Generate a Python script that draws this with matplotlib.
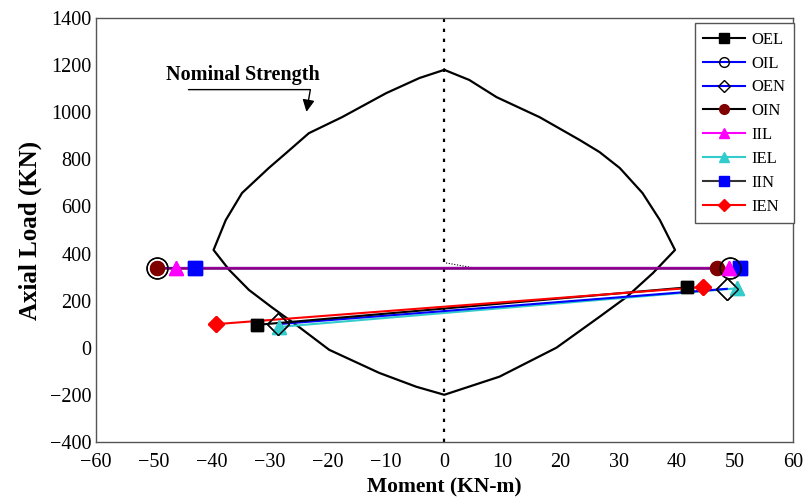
import matplotlib.pyplot as plt
from matplotlib.lines import Line2D

plt.rcParams['font.family'] = ['Liberation Serif', 'DejaVu Serif']

# nominal strength interaction curve (moment, axial load)
curve_m = [0, -4.3, -10, -17.6, -23.3, -27.2, -30.2, -34.8, -37.6, -39.7,
           -37, -33.6, -29.7, -25, -19.8, -11.2, -4.8, 0,
           9.5, 19.3, 26.7, 31.4, 35.9, 39.7, 37.1, 34.1, 30.2, 26.7, 23.3,
           16.4, 9, 4.3, 0]
curve_p = [1180, 1145, 1081, 979, 911, 827, 763, 657, 542, 415,
           330, 245, 172, 88, -9, -107, -166, -200,
           -123, 0, 131, 216, 317, 415, 542, 657, 763, 831, 882,
           979, 1064, 1137, 1180]

labels = ["OEL", "OIL", "OEN", "OIN", "IIL", "IEL", "IIN", "IEN"]
moments = {
    "OEL": [-32.2, 41.7],
    "OIL": [-49.5, 49.1],
    "OEN": [-28.6, 48.6],
    "OIN": [-49.5, 47.0],
    "IIL": [-46.2, 49.0],
    "IEL": [-28.5, 50.3],
    "IIN": [-42.9, 50.9],
    "IEN": [-39.3, 44.5],
}
loads = {
    "OEL": [97, 256],
    "OIL": [340, 340],
    "OEN": [100, 250],
    "OIN": [340, 340],
    "IIL": [340, 340],
    "IEL": [88, 252],
    "IIN": [340, 340],
    "IEN": [100, 258],
}

styles = {
    "OEL": dict(color="black", marker="s", mfc="black", mec="black", ms=9),
    "OIL": dict(color="blue", marker="o", mfc="none", mec="black", ms=15),
    "OEN": dict(color="blue", marker="D", mfc="none", mec="black", ms=11),
    "OIN": dict(color="black", marker="o", mfc="#800000", mec="#800000", ms=10),
    "IIL": dict(color="magenta", marker="^", mfc="magenta", mec="magenta", ms=10),
    "IEL": dict(color="#33cccc", marker="^", mfc="#33cccc", mec="#33cccc", ms=10),
    "IIN": dict(color="#333333", marker="s", mfc="blue", mec="blue", ms=10),
    "IEN": dict(color="red", marker="D", mfc="red", mec="red", ms=8),
}

fig = plt.figure(figsize=(8.1, 5.01), dpi=100)
ax = fig.add_axes([0.118, 0.118, 0.861, 0.846])

ax.plot(curve_m, curve_p, color="black", lw=1.6, zorder=2)
ax.plot([0, 0], [-400, 1400], color="black", ls=(0, (1.5, 3)), lw=1.6, zorder=1)
ax.plot([0.3, 4.8], [360, 340], color="black", ls=(0, (1, 1.5)), lw=0.8, zorder=1)

draw_order = ["IIN", "OIN", "OIL", "IIL", "IEL", "OEN", "OEL", "IEN"]
for name in draw_order:
    st = styles[name]
    ax.plot(moments[name], loads[name], lw=1.5, zorder=3, **st)
# overlapping lines at constant load appear purple
ax.plot(moments["OIN"], loads["OIN"], color="purple", lw=1.8, zorder=3)
for name in draw_order:
    st = dict(styles[name])
    st.pop("color")
    ax.plot(moments[name], loads[name], ls="none", zorder=4, **st)

handles = []
for name in labels:
    st = dict(styles[name])
    st["ms"] = 7 if st["marker"] != "D" else 6
    handles.append(Line2D([], [], lw=1.5, label=name, **st))
leg = ax.legend(handles=handles, loc="upper right", bbox_to_anchor=(1.006, 0.995),
                fontsize=12, handlelength=2.5, labelspacing=0.47,
                handletextpad=0.4, fancybox=False, edgecolor="#555555",
                framealpha=1, borderpad=0.5, borderaxespad=0.2)
leg.get_frame().set_linewidth(1.0)

ax.text(-47.8, 1160, "Nominal Strength", fontsize=14.5, fontweight="bold",
        va="center", ha="left")
ax.annotate("", xy=(-23.8, 990), xytext=(-44.5, 1096),
            arrowprops=dict(arrowstyle="-|>", color="black", lw=1.0,
                            mutation_scale=18,
                            connectionstyle="angle,angleA=0,angleB=80,rad=0"))

ax.set_xlim(-60, 60)
ax.set_ylim(-400, 1400)
ax.set_xticks(range(-60, 61, 10))
ax.set_yticks(range(-400, 1401, 200))
ax.tick_params(length=0, labelsize=14.5)
ax.tick_params(axis="x", pad=8)
ax.tick_params(axis="y", pad=3)
for sp in ax.spines.values():
    sp.set_color("#555555")
    sp.set_linewidth(1.0)
ax.set_xlabel("Moment (KN-m)", fontsize=15.5, fontweight="bold", labelpad=4)
ax.set_ylabel("Axial Load (KN)", fontsize=18, fontweight="bold", labelpad=6)

fig.savefig("out.png", dpi=100)
